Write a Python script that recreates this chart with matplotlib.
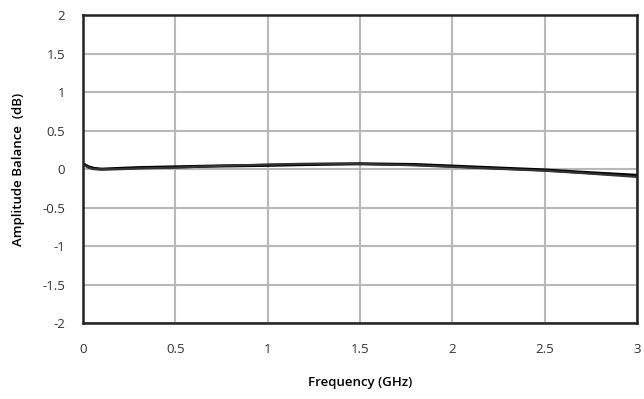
import numpy as np
import matplotlib.pyplot as plt

# amplitude balance vs frequency, two near-identical traces
freq = [0.0, 0.03, 0.06, 0.1, 0.2, 0.3, 0.5, 0.7, 1.0, 1.2, 1.5, 1.8, 2.0, 2.2, 2.5, 2.7, 3.0]
bal_a = [0.07, 0.03, 0.01, 0.0, 0.01, 0.02, 0.03, 0.04, 0.05, 0.06, 0.07, 0.06, 0.04, 0.02, -0.01, -0.04, -0.08]
bal_b = [0.06, 0.02, 0.0, 0.0, 0.0, 0.01, 0.02, 0.04, 0.06, 0.07, 0.07, 0.05, 0.03, 0.01, -0.02, -0.05, -0.10]

xticks = [0, 0.5, 1, 1.5, 2, 2.5, 3]
xlabels = ["0", "0.5", "1", "1.5", "2", "2.5", "3"]
yticks = [-2, -1.5, -1, -0.5, 0, 0.5, 1, 1.5, 2]
ylabels = ["-2", "-1.5", "-1", "-0.5", "0", "0.5", "1", "1.5", "2"]

plt.rcParams['font.family'] = ['Open Sans', 'DejaVu Sans']

fig = plt.figure(figsize=(6.44, 3.99), dpi=100)
ax = fig.add_axes([0.129, 0.19, 0.86, 0.772])

ax.plot(freq, bal_a, color="black", lw=2.2)
ax.plot(freq, bal_b, color="#333333", lw=1.6)

ax.set_xlim(0, 3)
ax.set_ylim(-2, 2)
ax.set_xticks(xticks)
ax.set_xticklabels(xlabels)
ax.set_yticks(yticks)
ax.set_yticklabels(ylabels)
ax.grid(True, color="#b8b8b8", lw=1.5)
ax.set_axisbelow(True)
ax.tick_params(length=0, labelsize=9.5, colors="#333333")
ax.tick_params(axis="x", pad=14)
ax.tick_params(axis="y", pad=13)
for s in ax.spines.values():
    s.set_linewidth(1.8)
    s.set_color("#222222")

ax.set_xlabel("Frequency (GHz)", fontsize=9.5, labelpad=15, fontweight="semibold")
ax.set_ylabel("Amplitude Balance  (dB)", fontsize=9.5, labelpad=12, fontweight="semibold")

fig.savefig("out.png", dpi=100)
